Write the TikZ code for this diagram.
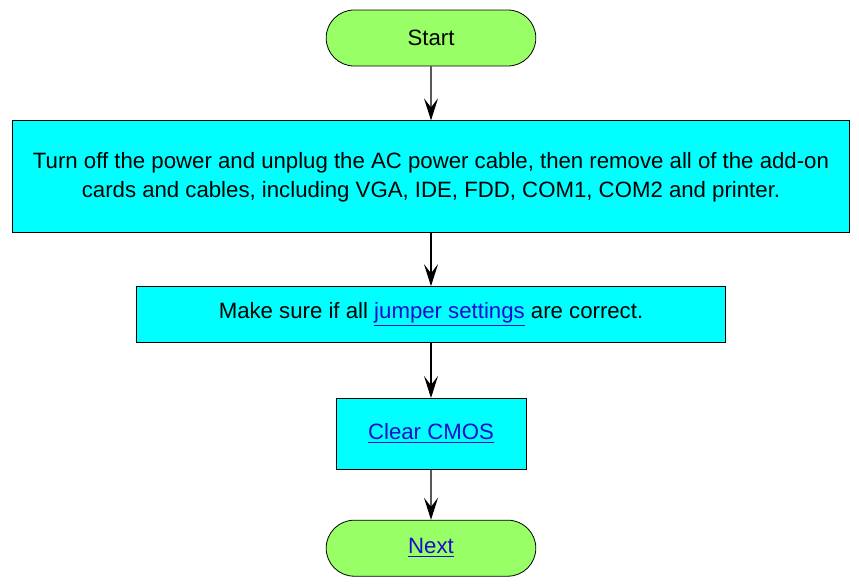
\documentclass[tikz,border=0pt]{standalone}
\usepackage{fontspec}
\setmainfont{Liberation Sans}
\usetikzlibrary{positioning,shapes.misc,arrows.meta}
\definecolor{termgreen}{HTML}{99FF66}
\definecolor{stepcyan}{HTML}{00FFFF}
\definecolor{linkblue}{HTML}{1A0DCC}
\newcommand{\lnk}[1]{\textcolor{linkblue}{\underline{#1}}}
\begin{document}
\begin{tikzpicture}[
    node distance=26.5pt,
    font=\fontsize{11.1}{14.5}\selectfont,
    term/.style={rounded rectangle, draw, fill=termgreen, minimum width=111.5pt, minimum height=28pt},
    box/.style={rectangle, draw, fill=stepcyan, align=center},
    arrow/.style={-{Stealth[length=11pt,width=7pt,inset=4.5pt]}, semithick}
]
    \useasboundingbox (0,0) rectangle (429.5pt,-292pt);

    % Start
    \node[term] (start) at (215.5pt,-19pt) {Start};

    % Steps
    \node[box, below=27pt of start, minimum width=418.5pt, minimum height=56pt] (power) {Turn off the power and unplug the AC power cable, then remove all of the add-on\\cards and cables, including VGA, IDE, FDD, COM1, COM2 and printer.};
    \node[box, below=26.5pt of power, minimum width=294.5pt, minimum height=28pt] (jumper) {Make sure if all \lnk{jumper settings} are correct.};
    \node[box, below=27.5pt of jumper, minimum width=95pt, minimum height=35.5pt] (cmos) {\lnk{Clear CMOS}};

    % Next
    \node[term, below=25pt of cmos] (next) {\lnk{Next}};

    % Arrows
    \draw[arrow] (start) -- (power);
    \draw[arrow] (power) -- (jumper);
    \draw[arrow] (jumper) -- (cmos);
    \draw[arrow] (cmos) -- (next);
\end{tikzpicture}
\end{document}
